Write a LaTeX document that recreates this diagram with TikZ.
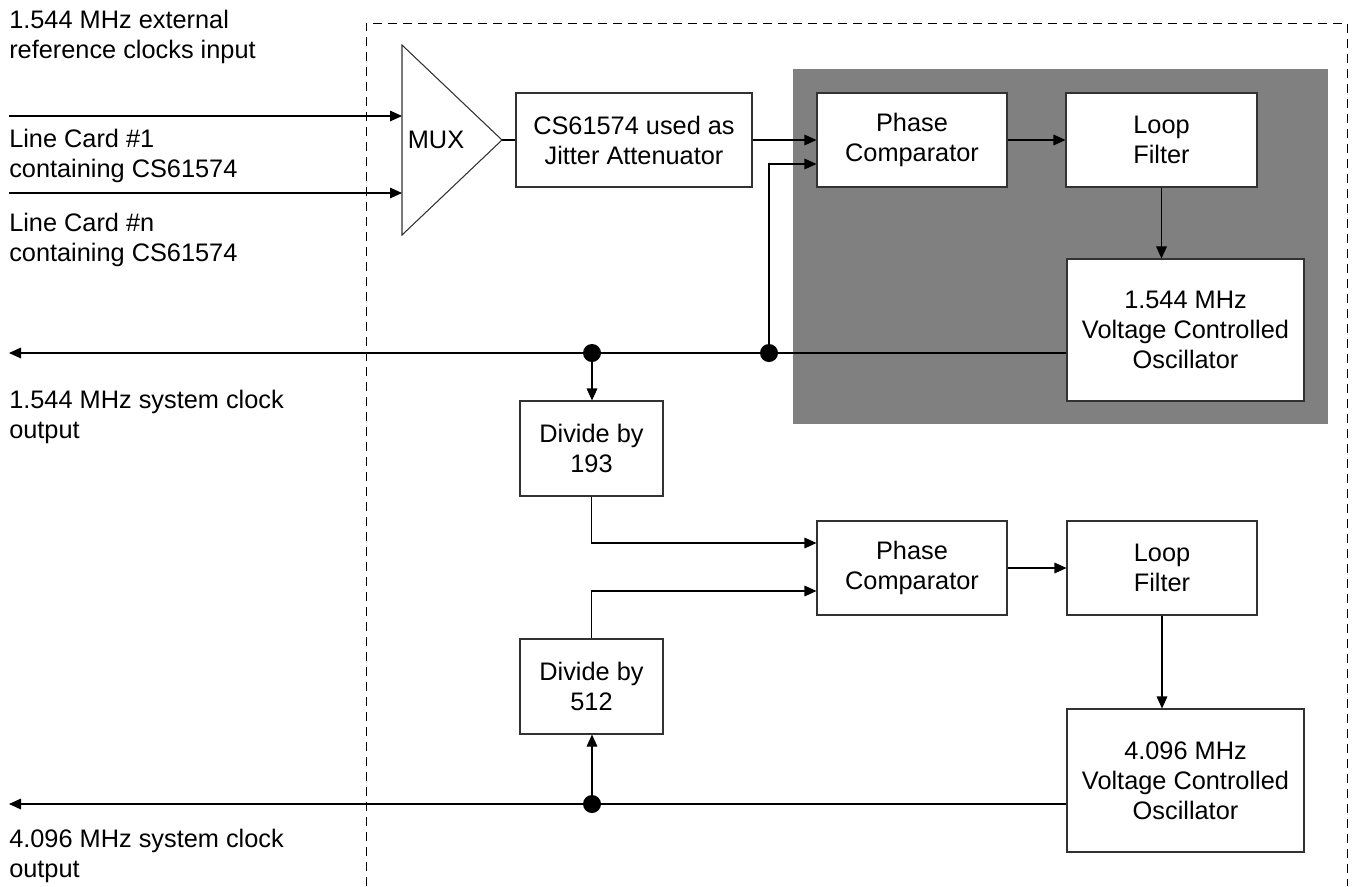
\documentclass[tikz,border=0pt]{standalone}
\usepackage{fontspec}
\setmainfont{Liberation Sans}
\usetikzlibrary{arrows.meta,calc}
\definecolor{shadegray}{RGB}{128,128,128}
\definecolor{edge}{RGB}{50,50,50}
\begin{document}
\begin{tikzpicture}[x=0.75pt,y=-0.75pt,
  txt/.style={font=\fontsize{19}{22.5}\selectfont},
  lbl/.style={txt,align=left,anchor=west,inner sep=0pt},
  blk/.style={txt,draw=edge,line width=0.8pt,fill=white,align=center,inner sep=0pt},
  wire/.style={draw=black,line width=0.8pt},
  arr/.style={wire,-{Triangle[length=9pt,width=8pt]}},
  larr/.style={wire,{Triangle[length=9pt,width=8pt]}-},
  dot/.style={circle,fill=black,inner sep=0pt,minimum size=13.5pt}]
\useasboundingbox (0,0) rectangle (1352,886);
% frame
\draw[line width=0.7pt,dash pattern=on 6.75pt off 4.5pt] (366,886) -- (366,23) -- (1347,23) -- (1347,886);
% shaded area
\fill[fill=shadegray] (793,69) rectangle (1328,424);
% labels
\node[lbl] (l1) at (9,37) {1.544 MHz external\\reference clocks input};
\node[lbl] (l2) at (9,156) {Line Card \#1\\containing CS61574};
\node[lbl] (l3) at (9,240) {Line Card \#n\\containing CS61574};
\node[lbl] (l4) at (9,417) {1.544 MHz system clock\\output};
\node[lbl] (l5) at (9,856) {4.096 MHz system clock\\output};
% MUX
\coordinate (muxtop) at (402,45);
\coordinate (muxtip) at (502,140);
\coordinate (muxbot) at (402,235);
\draw[draw=edge,line width=0.8pt,fill=white] (muxtop) -- (muxtip) -- (muxbot) -- cycle;
\node[txt,inner sep=0pt] (mux) at (436,140) {MUX};
% blocks
\node[blk,minimum width=177pt,minimum height=70.5pt] (jit) at (634,140) {CS61574 used as\\Jitter Attenuator};
\node[blk,minimum width=142.5pt,minimum height=70.5pt] (pc1) at (912,140) {Phase\\Comparator};
\node[blk,minimum width=143.25pt,minimum height=70.5pt] (lf1) at (1161.5,140) {Loop\\Filter};
\node[blk,minimum width=177.75pt,minimum height=106.5pt] (vco1) at (1185.5,330) {1.544 MHz\\Voltage Controlled\\Oscillator};
\node[blk,minimum width=107.25pt,minimum height=71.25pt] (d193) at (591.5,448.5) {Divide by\\193};
\node[blk,minimum width=142.5pt,minimum height=70.5pt] (pc2) at (912,568) {Phase\\Comparator};
\node[blk,minimum width=142.5pt,minimum height=70.5pt] (lf2) at (1162,568) {Loop\\Filter};
\node[blk,minimum width=107.25pt,minimum height=71.25pt] (d512) at (591.5,686.5) {Divide by\\512};
\node[blk,minimum width=177.75pt,minimum height=107.25pt] (vco2) at (1185.5,780.5) {4.096 MHz\\Voltage Controlled\\Oscillator};
% inputs
\coordinate (in1s) at (9,116);
\coordinate (in1e) at (402,116);
\coordinate (in2s) at (9,193);
\coordinate (in2e) at (402,193);
\draw[arr] (in1s) -- (in1e);
\draw[arr] (in2s) -- (in2e);
\draw[wire] (muxtip) -- (jit.west);
% first loop
\draw[arr] (jit.east) -- (pc1.west);
\draw[arr] (pc1.east) -- (lf1.west);
\draw[arr] (lf1.south) -- (lf1.south |- vco1.north);
\coordinate (out1) at (9,353);
\coordinate (v1o) at ($(vco1.west)+(0,23)$);
\draw[larr] (out1) -- (v1o);
\node[dot] (j1) at (592,353) {};
\node[dot] (j2) at (769,353) {};
\draw[arr] (j2.center) |- ($(pc1.west)+(0,24)$);
\draw[arr] (j1.center) -- (j1.center |- d193.north);
% second loop
\draw[arr] (d193.south) |- ($(pc2.west)+(0,-25)$);
\draw[arr] (d512.north) |- ($(pc2.west)+(0,23)$);
\draw[arr] (pc2.east) -- (lf2.west);
\draw[arr] (lf2.south) -- (lf2.south |- vco2.north);
\coordinate (out2) at (9,804);
\coordinate (v2o) at ($(vco2.west)+(0,23.5)$);
\draw[larr] (out2) -- (v2o);
\node[dot] (j3) at (592,804) {};
\draw[arr] (j3.center) -- (j3.center |- d512.south);
\end{tikzpicture}
\end{document}
